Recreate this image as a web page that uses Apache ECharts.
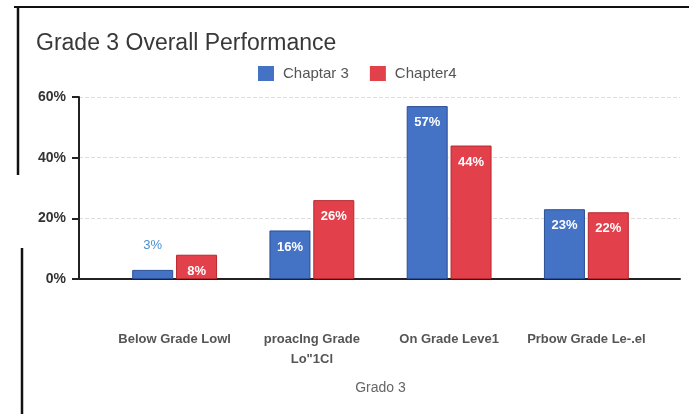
<!DOCTYPE html>
<html>
<head>
<meta charset="utf-8">
<script src="https://cdn.jsdelivr.net/npm/echarts@6/dist/echarts.min.js"></script>
<style>
  html, body { margin: 0; padding: 0; background: #fff; }
  #main { width: 689px; height: 414px; }
</style>
</head>
<body>
<div id="main"></div>
<script>
// 图表数据
var categories = ['Below Grade Lowl', 'proacIng Grade\nLo"1Cl', 'On Grade Leve1', 'Prbow Grade Le-.el'];
var chapter3 = [3, 16, 57, 23];
var chapter4 = [8, 26, 44, 22];
var seriesNames = ['Chaptar 3', 'Chapter4'];
var yTicks = [0, 20, 40, 60];

var BLUE = '#4472c4';
var RED = '#e2404a';
var FONT = 'Liberation Sans, Arial, sans-serif';

// 太矮的柱子把标签放在上面
function buildData(values, smallColor) {
  var out = [];
  for (var i = 0; i < values.length; i++) {
    var item = {value: values[i]};
    if (values[i] < 5) {
      item.label = {
        position: 'top',
        distance: 18,
        color: smallColor,
        fontWeight: 'normal'
      };
    }
    out.push(item);
  }
  return out;
}

var myChart = echarts.init(document.getElementById('main'), null, {renderer: 'canvas'});
var option = {
  animation: false,
  backgroundColor: '#fff',
  textStyle: {fontFamily: FONT},
  title: {
    text: 'Grade 3 Overall Performance',
    left: 36,
    top: 32,
    padding: 0,
    textStyle: {fontSize: 23, fontWeight: 'normal', color: '#383838', fontFamily: FONT}
  },
  legend: {
    left: 258,
    top: 66,
    padding: 0,
    itemWidth: 16,
    itemHeight: 15,
    itemGap: 21,
    icon: 'rect',
    data: seriesNames,
    itemStyle: {borderWidth: 0},
    textStyle: {fontSize: 15, color: '#555', fontFamily: FONT, padding: [0, 0, 0, 4]}
  },
  grid: [
    // 柱子所在的网格
    {left: 106, right: 34, top: 97, bottom: 135},
    // 纵轴和底线
    {left: 79, right: 9, top: 97, bottom: 135}
  ],
  xAxis: [
    {
      type: 'category',
      gridIndex: 0,
      data: categories,
      axisLine: {show: false},
      axisTick: {show: false},
      axisLabel: {
        interval: 0,
        margin: 50,
        fontSize: 13,
        fontWeight: 'bold',
        color: '#555',
        lineHeight: 20,
        fontFamily: FONT
      },
      name: 'Grado 3',
      nameLocation: 'middle',
      nameGap: 102,
      nameTextStyle: {fontSize: 14, color: '#666', fontFamily: FONT}
    },
    {
      type: 'value',
      gridIndex: 1,
      min: 0,
      max: 1,
      axisLine: {show: true, onZero: false, lineStyle: {color: '#222', width: 2}},
      axisTick: {show: false},
      axisLabel: {show: false},
      splitLine: {show: false}
    }
  ],
  yAxis: [
    {
      type: 'value',
      gridIndex: 0,
      min: yTicks[0],
      max: yTicks[yTicks.length - 1],
      interval: 20,
      show: false
    },
    {
      type: 'value',
      gridIndex: 1,
      min: yTicks[0],
      max: yTicks[yTicks.length - 1],
      interval: 20,
      axisLine: {show: true, lineStyle: {color: '#222', width: 2}},
      axisTick: {show: true, length: 7, lineStyle: {color: '#222', width: 2}},
      axisLabel: {
        formatter: '{value}%',
        margin: 13,
        fontSize: 14,
        fontWeight: 'bold',
        color: '#333',
        fontFamily: FONT
      },
      splitLine: {show: true, lineStyle: {color: '#dcdcdc', type: 'dashed', width: 1}}
    }
  ],
  series: [
    {
      name: seriesNames[0],
      type: 'bar',
      xAxisIndex: 0,
      yAxisIndex: 0,
      barWidth: 41,
      barGap: '7%',
      data: buildData(chapter3, '#4a8fd0'),
      itemStyle: {color: BLUE, borderColor: '#2a4f95', borderWidth: 1},
      label: {
        show: true,
        position: 'insideTop',
        distance: 10,
        formatter: '{c}%',
        color: '#fff',
        fontSize: 13,
        fontWeight: 'bold',
        fontFamily: FONT
      }
    },
    {
      name: seriesNames[1],
      type: 'bar',
      xAxisIndex: 0,
      yAxisIndex: 0,
      barWidth: 41,
      data: buildData(chapter4, RED),
      itemStyle: {color: RED, borderColor: '#b8262e', borderWidth: 1},
      label: {
        show: true,
        position: 'insideTop',
        distance: 10,
        formatter: '{c}%',
        color: '#fff',
        fontSize: 13,
        fontWeight: 'bold',
        fontFamily: FONT
      }
    }
  ],
  // 扫描件的边框线
  graphic: [
    {type: 'line', shape: {x1: 14, y1: 7, x2: 689, y2: 7}, style: {stroke: '#111', lineWidth: 2}},
    {type: 'line', shape: {x1: 18, y1: 6, x2: 18, y2: 175}, style: {stroke: '#111', lineWidth: 2.5}},
    {type: 'line', shape: {x1: 22, y1: 248, x2: 22, y2: 414}, style: {stroke: '#111', lineWidth: 2.5}}
  ]
};
myChart.setOption(option);
</script>
</body>
</html>
